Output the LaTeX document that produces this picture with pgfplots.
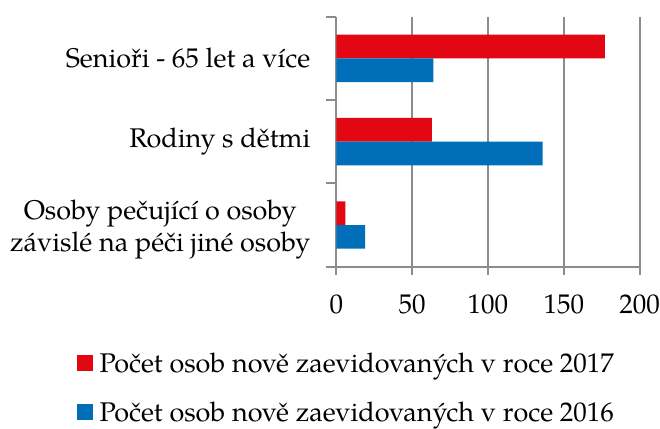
\documentclass[border=0pt]{standalone}
\usepackage{fontspec}
\setmainfont{TeX Gyre Pagella}
\usepackage{pgfplots}
\pgfplotsset{compat=1.18}
\definecolor{cred}{RGB}{227,6,19}
\definecolor{cblue}{RGB}{0,110,185}
\definecolor{cgrid}{RGB}{140,140,140}
\begin{document}
\begin{tikzpicture}[font=\fontsize{27}{32}\selectfont]
\begin{axis}[
  at={(0,0)}, anchor=south west,
  scale only axis, width=303.4pt, height=250pt,
  xmin=0, xmax=200, ymin=-0.5, ymax=2.5,
  xtick={0,50,100,150,200},
  ytick={0,1,2},
  yticklabels={{\rule{0pt}{28pt}Osoby pečující o osoby\\závislé na péči jiné osoby},{Rodiny s dětmi},{Senioři - 65 let a více}},
  yticklabel style={align=center, xshift=-14.5pt},
  xticklabel style={yshift=-17pt},
  minor ytick={-0.5,0.5,1.5,2.5},
  axis x line*=bottom, axis y line*=left,
  axis line style={draw=cgrid, line width=2pt, -},
  tick align=outside,
  major tick length=8pt, minor tick length=10pt,
  every major y tick/.append style={draw=none},
  every tick/.append style={draw=cgrid, line width=2pt},
  xmajorgrids, grid style={draw=cgrid, line width=2pt},
  /pgf/number format/assume math mode=true,
  xbar, bar width=23.7pt,
  legend style={draw=none, fill=none, at={(axis description cs:-0.8668,-0.335)}, anchor=north west,
    row sep=28pt, nodes={inner xsep=5pt, inner ysep=0pt},
    /tikz/every odd column/.append style={column sep=2pt}},
  legend cell align=left,
  legend image code/.code={\fill[#1] (0pt,-8pt) rectangle (16pt,8pt);},
]
\addplot[fill=cred, draw=none, bar shift=11.85pt] coordinates {(177,2) (63,1) (6,0)};
\addplot[fill=cblue, draw=none, bar shift=-11.85pt] coordinates {(64,2) (136,1) (19,0)};
\legend{Počet osob nově zaevidovaných v roce 2017, Počet osob nově zaevidovaných v roce 2016}
\end{axis}
\pgfresetboundingbox
\path (-336.3pt,-161.3pt) rectangle (323.7pt,266.7pt);
\end{tikzpicture}
\end{document}
